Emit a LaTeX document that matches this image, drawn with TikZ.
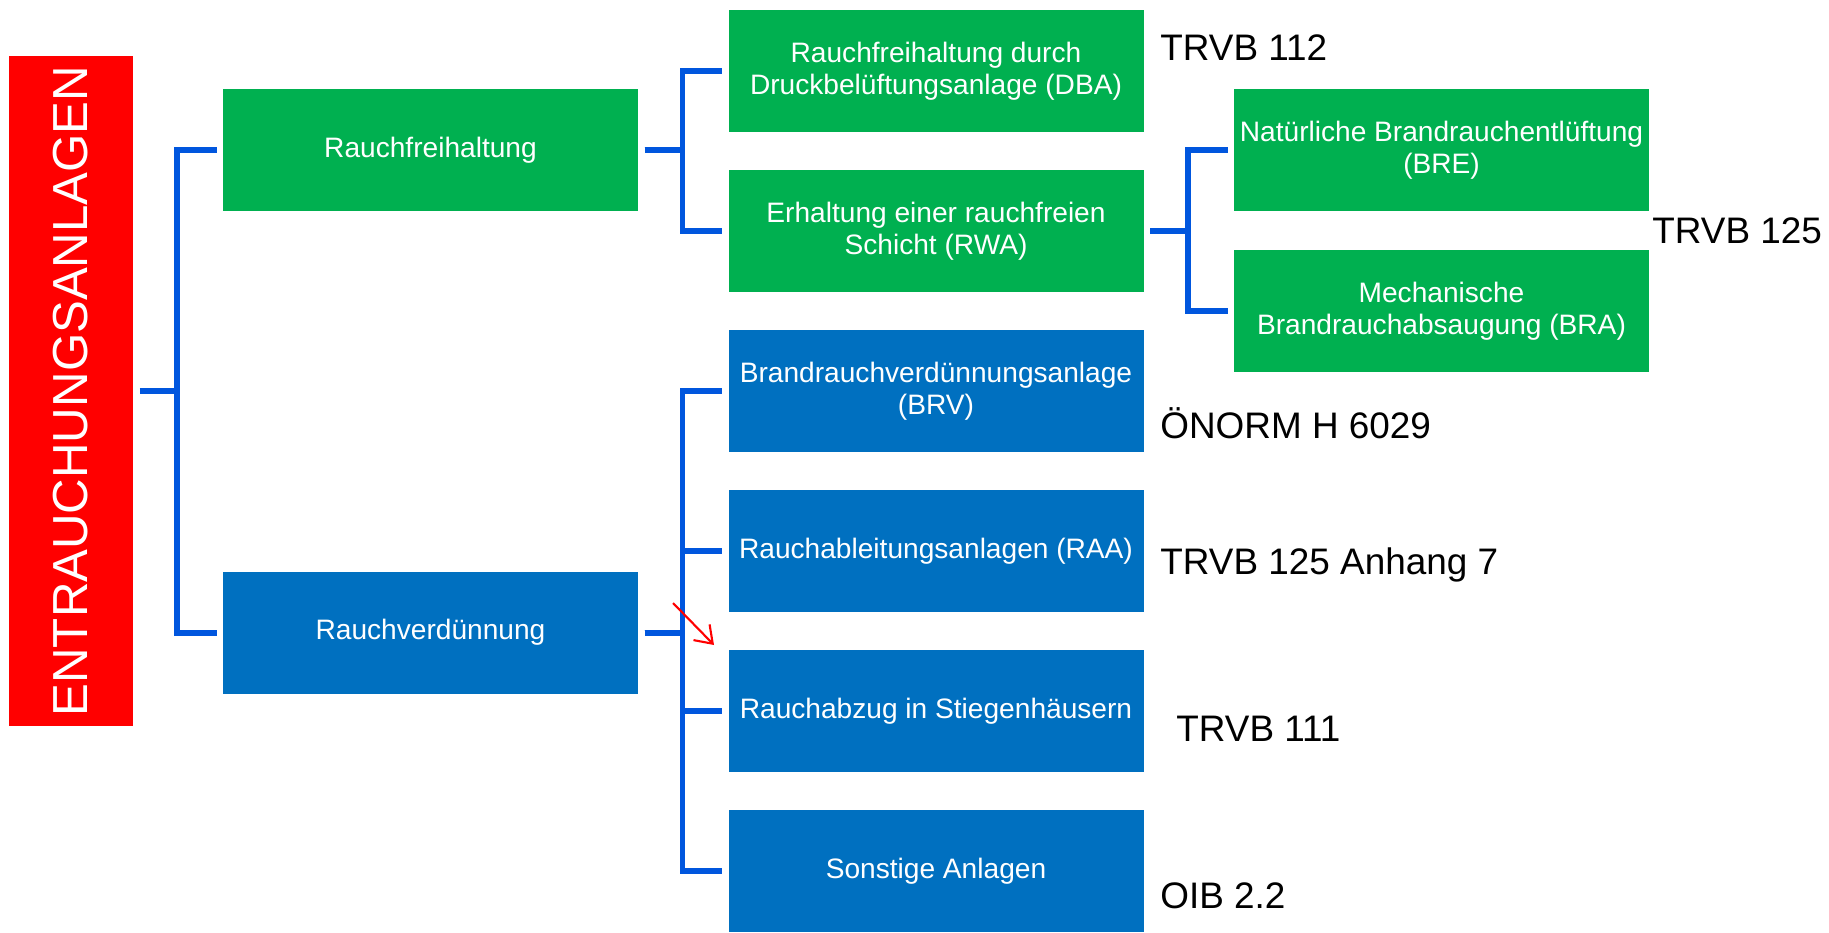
\documentclass[tikz,border=0pt]{standalone}
\usepackage{fontspec}
\usepackage{graphicx}
\usepackage{tikz}
\setmainfont{Liberation Sans}
\usetikzlibrary{arrows.meta}
\usetikzlibrary{positioning}

\definecolor{boxgreen}{RGB}{0,176,80}
\definecolor{boxblue}{RGB}{0,112,192}
\definecolor{linkblue}{RGB}{0,86,222}

\tikzset{
  box/.style={rectangle, inner sep=0pt, outer sep=0pt, minimum width=8.3cm, minimum height=2.44cm,
    align=center, text=white, font=\fontsize{16pt}{18pt}\selectfont},
  greenbox/.style={box, fill=boxgreen},
  bluebox/.style={box, fill=boxblue},
  norm/.style={anchor=base west, inner sep=0pt, font=\fontsize{21pt}{25pt}\selectfont},
  link/.style={draw=linkblue, line width=3.4pt},
}
\newcommand{\gapx}{0.13cm}
\newcommand{\forkx}{0.92cm}

\begin{document}
\begin{tikzpicture}
    \useasboundingbox (0,0) rectangle (36.58,-18.64);

    \node (title) [rectangle, fill=red, inner sep=0pt, minimum width=2.48cm, minimum height=13.4cm,
      text=white, font=\fontsize{28pt}{32pt}\selectfont] at (1.42,-7.82) {\rotatebox{90}{ENTRAUCHUNGSANLAGEN}};

    \node (rf) [greenbox] at (8.61,-3.0) {Rauchfreihaltung};
    \node (rv) [bluebox] at (8.61,-12.65) {Rauchverdünnung};

    \node (dba) [greenbox] at (18.72,-1.42) {Rauchfreihaltung durch\\Druckbelüftungsanlage (DBA)};
    \node (rwa) [greenbox, below=0.76cm of dba] {Erhaltung einer rauchfreien\\Schicht (RWA)};
    \node (brv) [bluebox, below=0.76cm of rwa] {Brandrauchverdünnungsanlage\\(BRV)};
    \node (raa) [bluebox, below=0.76cm of brv] {Rauchableitungsanlagen (RAA)};
    \node (sth) [bluebox, below=0.76cm of raa] {Rauchabzug in Stiegenhäusern};
    \node (son) [bluebox, below=0.76cm of sth] {Sonstige Anlagen};

    \node (bre) [greenbox] at (28.83,-3.0) {Natürliche Brandrauchentlüftung\\(BRE)};
    \node (bra) [greenbox, below=0.78cm of bre] {Mechanische\\Brandrauchabsaugung (BRA)};

    \node (n112) [norm] at (23.2,-1.2) {TRVB 112};
    \node (n125) [norm] at (33.04,-4.87) {TRVB 125};
    \node (n6029) [norm] at (23.2,-8.76) {ÖNORM H 6029};
    \node (n125a) [norm] at (23.2,-11.49) {TRVB 125 Anhang 7};
    \node (n111) [norm] at (23.52,-14.83) {TRVB 111};
    \node (oib) [norm] at (23.2,-18.17) {OIB 2.2};

    \foreach \kid in {rf, rv}
        \draw [link] ([xshift=\gapx]title.east) -| ([xshift=-\forkx]\kid.west) -- ([xshift=-\gapx]\kid.west);
    \foreach \kid in {dba, rwa}
        \draw [link] ([xshift=\gapx]rf.east) -| ([xshift=-\forkx]\kid.west) -- ([xshift=-\gapx]\kid.west);
    \foreach \kid in {brv, raa, sth, son}
        \draw [link] ([xshift=\gapx]rv.east) -| ([xshift=-\forkx]\kid.west) -- ([xshift=-\gapx]\kid.west);
    \foreach \kid in {bre, bra}
        \draw [link] ([xshift=\gapx]rwa.east) -| ([xshift=-\forkx]\kid.west) -- ([xshift=-\gapx]\kid.west);

    \coordinate (tail) at (13.46,-12.06);
    \coordinate (tip) at (14.28,-12.9);
    \draw [red, line width=1.2pt, -{Straight Barb[length=0.32cm, width=0.45cm]}] (tail) -- (tip); % hint arrow
\end{tikzpicture}
\end{document}
